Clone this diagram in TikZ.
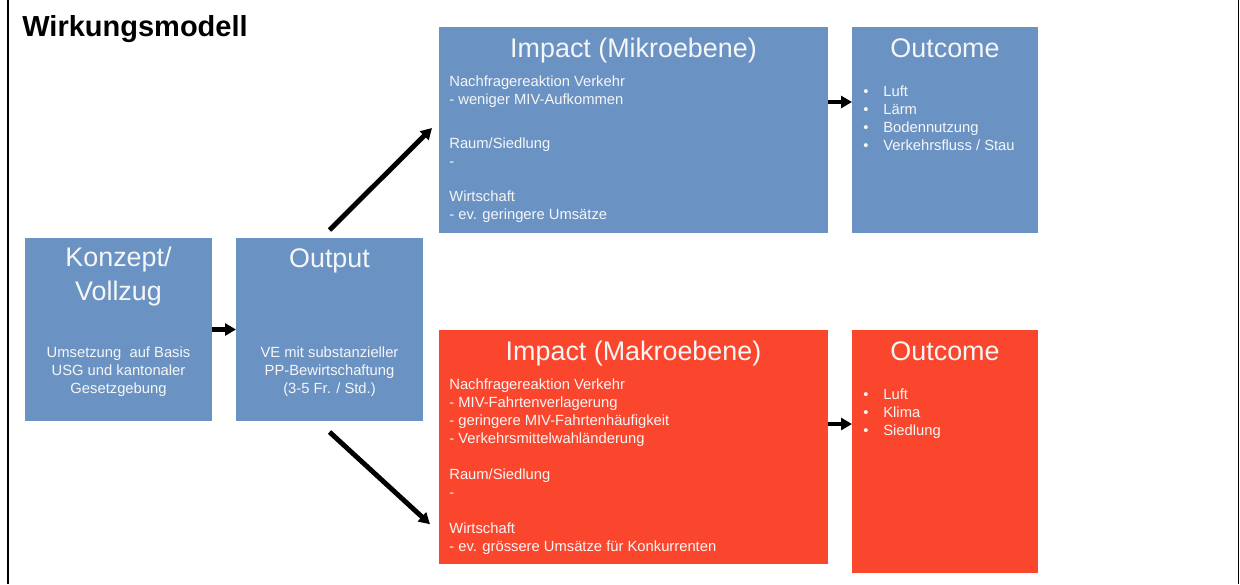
\documentclass[tikz,border=0pt]{standalone}
\usepackage{fontspec}
\setmainfont{Liberation Sans}
\usepackage{xcolor}
\usepackage{tikz}
\usetikzlibrary{arrows.meta, positioning, calc}
\definecolor{wmblue}{HTML}{6A93C4}
\definecolor{wmred}{HTML}{FB462E}
\definecolor{wmtext}{HTML}{F6F6F6}

\tikzset{
  stage/.style={fill=wmblue, inner sep=0pt, outer sep=0pt, anchor=north west},
  stagetitle/.style={wmtext, inner sep=0pt, anchor=base, align=center, font=\fontsize{15.3}{18.8}\selectfont},
  stagebody/.style={wmtext, inner sep=0pt, font=\fontsize{8.4}{10.2}\selectfont},
  flow/.style={line width=2.8pt, -{Triangle[length=0.22cm, width=0.24cm]}}
}

\begin{document}
\begin{tikzpicture}
  % Canvas and side rules
  \useasboundingbox (0,0) rectangle (24.8,-11.68);
  \draw[line width=1.3pt] (0.16,0) -- (0.16,-11.68);
  \draw[line width=0.6pt] (24.77,0) -- (24.77,-11.68);

  % Heading (top left)
  \node[anchor=base west, inner sep=0pt, font=\fontsize{16.5}{16.5}\selectfont\bfseries] (heading) at (0.44,-0.73) {Wirkungsmodell};

  % Stage boxes - blue chain, red macro level
  \node[stage, minimum width=3.74cm, minimum height=3.66cm] (konzept) at (0.50,-4.76) {};
  \node[stage, minimum width=3.74cm, minimum height=3.66cm, right=0.48cm of konzept] (output) {};
  \node[stage, minimum width=7.78cm, minimum height=4.12cm] (mikro) at (8.78,-0.54) {};
  \node[stage, minimum width=3.72cm, minimum height=4.12cm, right=0.48cm of mikro] (outmikro) {};
  \node[stage, fill=wmred, minimum width=7.78cm, minimum height=4.68cm] (makro) at (8.78,-6.60) {};
  \node[stage, fill=wmred, minimum width=3.72cm, minimum height=4.86cm] (outmakro) at (17.04,-6.60) {};

  % Box titles (base = last line)
  \node[stagetitle] (konzepthead) at ([yshift=-1.24cm]konzept.north) {Konzept/\\Vollzug};
  \node[stagetitle] (outputhead) at ([yshift=-0.58cm]output.north) {Output};
  \node[stagetitle] (mikrohead) at ([yshift=-0.60cm]mikro.north) {Impact (Mikroebene)};
  \node[stagetitle] (outmikrohead) at ([yshift=-0.60cm]outmikro.north) {Outcome};
  \node[stagetitle] (makrohead) at ([yshift=-0.60cm]makro.north) {Impact (Makroebene)};
  \node[stagetitle] (outmakrohead) at ([yshift=-0.60cm]outmakro.north) {Outcome};

  % Box texts (base = last line)
  \node[stagebody, align=center, anchor=base] (konzepttext) at ([yshift=-3.10cm]konzept.north)
    {Umsetzung\ \ auf Basis\\USG und kantonaler\\Gesetzgebung};
  \node[stagebody, align=center, anchor=base] (outputtext) at ([yshift=-3.10cm]output.north)
    {VE mit substanzieller\\PP-Bewirtschaftung\\(3-5 Fr. / Std.)};
  \node[stagebody, align=left, anchor=base west] (mikrotext) at ([xshift=0.2cm, yshift=-3.85cm]mikro.north west)
    {Nachfragereaktion Verkehr\\- weniger MIV-Aufkommen\\[14.8pt]Raum/Siedlung\\-\\[9.8pt]Wirtschaft\\- ev. geringere Umsätze};
  \node[stagebody, align=left, anchor=base west] (makrotext) at ([xshift=0.2cm, yshift=-4.42cm]makro.north west)
    {Nachfragereaktion Verkehr\\- MIV-Fahrtenverlagerung\\- geringere MIV-Fahrtenhäufigkeit\\- Verkehrsmittelwahländerung\\[10.5pt]Raum/Siedlung\\-\\[10pt]Wirtschaft\\- ev. grössere Umsätze für Konkurrenten};
  \node[stagebody, align=left, anchor=base west] (outmikrotext) at ([xshift=0.22cm, yshift=-2.46cm]outmikro.north west)
    {\makebox[0.4cm][l]{\textbullet}Luft\\\makebox[0.4cm][l]{\textbullet}Lärm\\\makebox[0.4cm][l]{\textbullet}Bodennutzung\\\makebox[0.4cm][l]{\textbullet}Verkehrsfluss / Stau};
  \node[stagebody, align=left, anchor=base west] (outmakrotext) at ([xshift=0.22cm, yshift=-2.10cm]outmakro.north west)
    {\makebox[0.4cm][l]{\textbullet}Luft\\\makebox[0.4cm][l]{\textbullet}Klima\\\makebox[0.4cm][l]{\textbullet}Siedlung};

  % Arrows between stages
  \draw[flow] (konzept) -- (output);
  \draw[flow] ([yshift=0.16cm]output.north) -- ([xshift=-0.14cm, yshift=0.04cm]mikro.west);
  \draw[flow] ([yshift=-0.22cm]output.south) -- ($(makro.north west)!0.83!(makro.south west)+(-0.18,0)$);
  \draw[flow] ([yshift=0.56cm]mikro.east) -- ([yshift=0.56cm]outmikro.west);
  \draw[flow] ([yshift=0.46cm]makro.east) -- ([yshift=0.46cm]makro.east -| outmakro.west);
\end{tikzpicture}
\end{document}
